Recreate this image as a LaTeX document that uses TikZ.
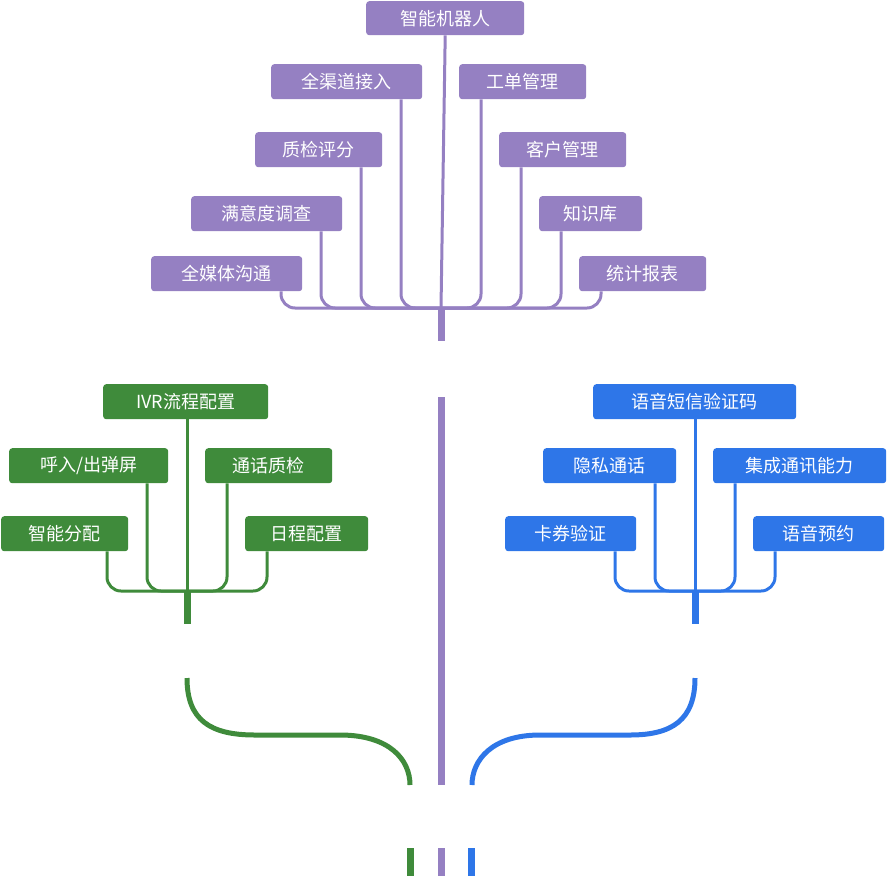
\documentclass[tikz,border=0pt]{standalone}
\usepackage{fontspec}
\newfontfamily\cjk{Noto Sans CJK SC}
\definecolor{pu}{HTML}{9580C2}
\definecolor{gr}{HTML}{3F8B3B}
\definecolor{bl}{HTML}{2E76E8}
\begin{document}
\begin{tikzpicture}[x=1pt,y=-1pt,
  lbl/.style={fill=#1,rounded corners=3pt,text=white,font=\cjk\fontsize{18}{20}\selectfont,inner sep=0pt,anchor=north west},
  br/.style={draw=#1,line width=3pt,rounded corners=14pt},
  stub/.style={draw=#1,line width=7pt}]
\useasboundingbox (0,0) rectangle (888,876);
\newcommand\bx[6]{\node[lbl=#6,minimum width=#4-#2,minimum height=#5-#3] (#1) at (#2,#3) {};\node[text=white,font=\cjk\fontsize{18}{20}\selectfont] at ($(#1.center)$) {};}
% purple
\def\B#1#2#3#4#5#6#7{\node[lbl=#6,minimum width=#4pt-#2pt,minimum height=#5pt-#3pt] (#1) at (#2,#3) {}; \node[text=white,font=\cjk\fontsize{18}{20}\selectfont] at (#1.center) {#7};}
\B{p0}{366}{1}{524}{35}{pu}{智能机器人}
\B{p1}{271}{64}{422}{99}{pu}{全渠道接入}
\B{p2}{459}{64}{586}{99}{pu}{工单管理}
\B{p3}{255}{132}{382}{167}{pu}{质检评分}
\B{p4}{499}{132}{626}{167}{pu}{客户管理}
\B{p5}{191}{196}{342}{231}{pu}{满意度调查}
\B{p6}{539}{196}{642}{231}{pu}{知识库}
\B{p7}{151}{256}{302}{291}{pu}{全媒体沟通}
\B{p8}{579}{256}{706}{291}{pu}{统计报表}
\coordinate (pj) at (441,308);
\draw[draw=pu,line width=3pt] (p0.south) -- (pj);
\foreach \n/\x in {p1/401,p2/481,p3/361,p4/521,p5/321,p6/561,p7/281,p8/601}
  \draw[br=pu] (\x,0 |- \n.south) |- (pj);
\draw[stub=pu] (pj) -- (441,341);
\coordinate (m1) at (441,397); \coordinate (m2) at (441,785);
\draw[stub=pu] (m1) -- (m2);
\coordinate (m3) at (441,848); \coordinate (m4) at (441,876);
\draw[stub=pu] (m3) -- (m4);
% green
\B{g0}{103}{384}{268}{419}{gr}{IVR流程配置}
\B{g1}{9}{448}{168}{483}{gr}{呼入/出弹屏}
\B{g2}{205}{448}{332}{483}{gr}{通话质检}
\B{g3}{1}{516}{128}{551}{gr}{智能分配}
\B{g4}{245}{516}{368}{551}{gr}{日程配置}
\coordinate (gj) at (187,591);
\draw[draw=gr,line width=3pt] (187,419) -- (gj);
\foreach \n/\x in {g1/147,g2/227,g3/107,g4/267}
  \draw[br=gr] (\x,0 |- \n.south) |- (gj);
\draw[stub=gr] (gj) -- (187,624);
\coordinate (ga) at (187,678); \coordinate (gb) at (410,785);
\draw[draw=gr,line width=5pt] (ga) .. controls (187,720) and (210,735) .. (255,735) -- (340,735) .. controls (390,735) and (410,760) .. (gb);
\coordinate (gc) at (410,848); \coordinate (gd) at (410,876);
\draw[stub=gr] (gc) -- (gd);
% blue
\B{b0}{593}{384}{796}{419}{bl}{语音短信验证码}
\B{b1}{543}{448}{676}{483}{bl}{隐私通话}
\B{b2}{713}{448}{886}{483}{bl}{集成通讯能力}
\B{b3}{505}{516}{636}{551}{bl}{卡券验证}
\B{b4}{753}{516}{884}{551}{bl}{语音预约}
\coordinate (bj) at (695,591);
\draw[draw=bl,line width=3pt] (695,419) -- (bj);
\foreach \n/\x in {b1/655,b2/735,b3/615,b4/775}
  \draw[br=bl] (\x,0 |- \n.south) |- (bj);
\draw[stub=bl] (bj) -- (695,624);
\coordinate (ba) at (695,678); \coordinate (bb) at (472,785);
\draw[draw=bl,line width=5pt] (ba) .. controls (695,720) and (672,735) .. (630,735) -- (540,735) .. controls (492,735) and (472,760) .. (bb);
\coordinate (bc) at (471,848); \coordinate (bd) at (471,876);
\draw[stub=bl] (bc) -- (bd);
\end{tikzpicture}
\end{document}
